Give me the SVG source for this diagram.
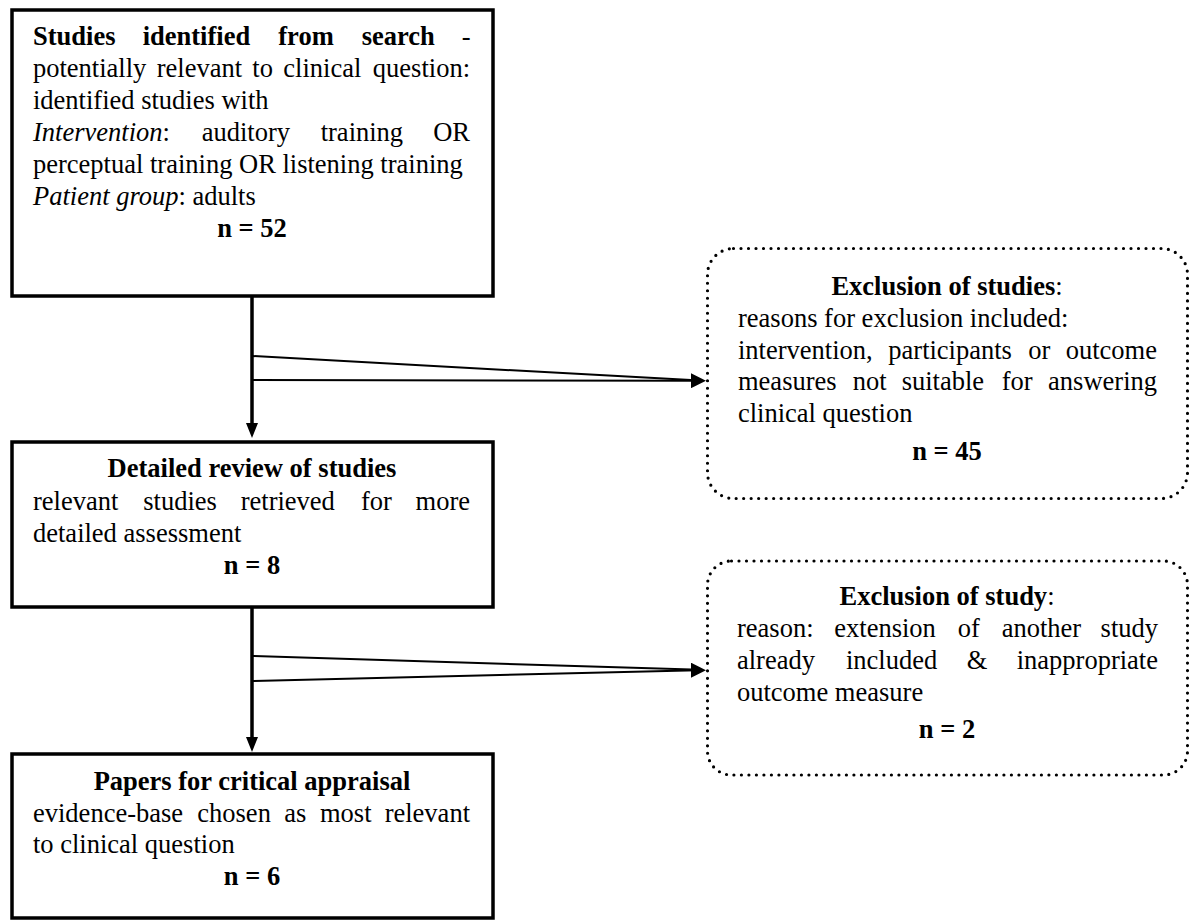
<svg xmlns="http://www.w3.org/2000/svg" width="1190" height="920" viewBox="0 0 1190 920">
<style>
text{font-family:"Liberation Serif","Times New Roman",serif;font-size:26.5px;fill:#000}
.b{font-weight:bold}
.i{font-style:italic}
.r{font-weight:normal}
.c{text-anchor:middle}
.e{text-anchor:end}
.box{fill:#fff;stroke:#000;stroke-width:3.5}
.dot{fill:#fff;stroke:#000;stroke-width:3.2;stroke-dasharray:0 7.5;stroke-linecap:round}
.main{fill:none;stroke:#000;stroke-width:3.5}
.thin{fill:none;stroke:#000;stroke-width:2}
</style>
<defs>
<marker id="ad" markerUnits="userSpaceOnUse" markerWidth="12" markerHeight="15" refX="6" refY="7" orient="0" viewBox="0 0 12 15">
<path d="M0,0 L12,0 L6,15 z" fill="#000"/>
</marker>
<marker id="ar" markerUnits="userSpaceOnUse" markerWidth="15" markerHeight="15" refX="7" refY="7.5" orient="0" viewBox="0 0 15 15">
<path d="M0,0 L15,7.5 L0,15 z" fill="#000"/>
</marker>
</defs>
<rect width="1190" height="920" fill="#fff"/>
<g id="connectors">
<path class="main" d="M252,296 L252,430" marker-end="url(#ad)"/>
<path class="thin" d="M252,356 L700,380.6"/>
<path class="thin" d="M252,380 L698,380.7" marker-end="url(#ar)"/>
<path class="main" d="M252,607 L252,744" marker-end="url(#ad)"/>
<path class="thin" d="M252,656 L700,669.8"/>
<path class="thin" d="M252,681 L698,670.2" marker-end="url(#ar)"/>
</g>
<g id="search">
<rect class="box" x="12" y="10" width="481" height="286"/>
<text class="b" x="33" y="45">Studies</text>
<text class="b" x="142.7" y="45">identified</text>
<text class="b" x="278.3" y="45">from</text>
<text class="b" x="361.7" y="45">search</text>
<text class="e" x="470.5" y="45">-</text>
<text x="33" y="77">potentially</text>
<text x="156.7" y="77">relevant</text>
<text x="252.3" y="77">to</text>
<text x="283.3" y="77">clinical</text>
<text class="e" x="470" y="77">question:</text>
<text x="33" y="109">identified studies with</text>
<text x="33" y="141"><tspan class="i">Intervention</tspan>:</text>
<text x="201.7" y="141">auditory</text>
<text x="320.7" y="141">training</text>
<text class="e" x="470" y="141">OR</text>
<text x="33" y="173">perceptual training OR listening training</text>
<text x="33" y="205"><tspan class="i">Patient group</tspan>: adults</text>
<text class="b c" x="252" y="237">n = 52</text>
</g>
<g id="review">
<rect class="box" x="12" y="442" width="481" height="165"/>
<text class="b c" x="252" y="477">Detailed review of studies</text>
<text x="33" y="510">relevant</text>
<text x="143.3" y="510">studies</text>
<text x="240.7" y="510">retrieved</text>
<text x="361" y="510">for</text>
<text class="e" x="470" y="510">more</text>
<text x="33" y="542">detailed assessment</text>
<text class="b c" x="252" y="574">n = 8</text>
</g>
<g id="papers">
<rect class="box" x="12" y="754" width="481" height="164"/>
<text class="b c" x="252" y="790">Papers for critical appraisal</text>
<text x="33" y="822">evidence-base</text>
<text x="197.3" y="822">chosen</text>
<text x="284.3" y="822">as</text>
<text x="320" y="822">most</text>
<text class="e" x="470" y="822">relevant</text>
<text x="33" y="853">to clinical question</text>
<text class="b c" x="252" y="885">n = 6</text>
</g>
<g id="exclusion1">
<rect class="dot" x="707.5" y="248.5" width="480" height="250" rx="26" ry="26"/>
<text class="b c" x="947" y="295">Exclusion of studies<tspan class="r">:</tspan></text>
<text x="738" y="327">reasons for exclusion included:</text>
<text x="738" y="358.5">intervention,</text>
<text x="888.3" y="358.5">participants</text>
<text x="1028.3" y="358.5">or</text>
<text class="e" x="1157" y="358.5">outcome</text>
<text x="738" y="390">measures</text>
<text x="852.7" y="390">not</text>
<text x="901.7" y="390">suitable</text>
<text x="1001.7" y="390">for</text>
<text class="e" x="1157" y="390">answering</text>
<text x="738" y="421.5">clinical question</text>
<text class="b c" x="947" y="460">n = 45</text>
</g>
<g id="exclusion2">
<rect class="dot" x="707.5" y="561" width="480" height="214" rx="24" ry="24"/>
<text class="b c" x="947" y="605">Exclusion of study<tspan class="r">:</tspan></text>
<text x="737" y="637">reason:</text>
<text x="834.3" y="637">extension</text>
<text x="957.7" y="637">of</text>
<text x="1001.7" y="637">another</text>
<text class="e" x="1158" y="637">study</text>
<text x="737" y="669">already</text>
<text x="846" y="669">included</text>
<text x="966.7" y="669">&amp;</text>
<text class="e" x="1158" y="669">inappropriate</text>
<text x="737" y="701">outcome measure</text>
<text class="b c" x="947" y="738">n = 2</text>
</g>
</svg>
